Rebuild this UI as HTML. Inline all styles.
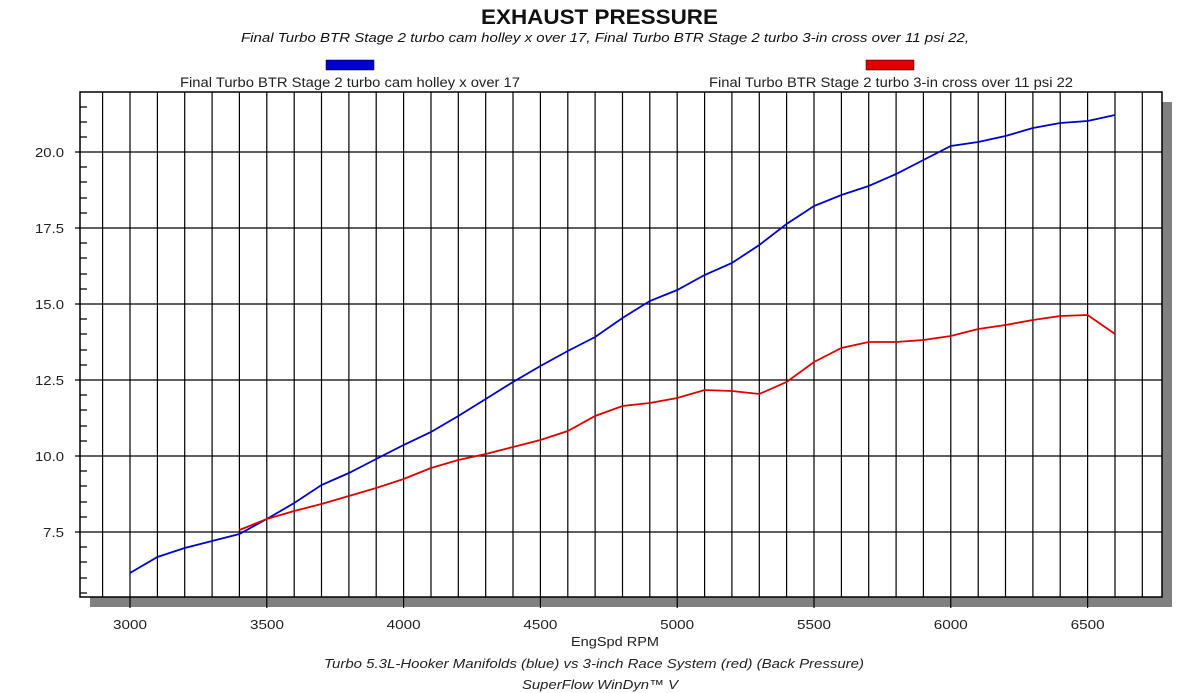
<!DOCTYPE html>
<html><head><meta charset="utf-8"><style>
html,body{margin:0;padding:0;background:#fff;}
svg{display:block;font-family:"Liberation Sans",Arial,sans-serif;}
</style></head><body>
<svg width="1200" height="693" viewBox="0 0 1200 693" xmlns="http://www.w3.org/2000/svg">
<rect width="1200" height="693" fill="#fff"/>
<text x="481" y="24" font-size="21" font-weight="bold" fill="#111" textLength="237" lengthAdjust="spacingAndGlyphs">EXHAUST PRESSURE</text>
<text x="241" y="42" font-size="13" font-style="italic" fill="#111" textLength="728" lengthAdjust="spacingAndGlyphs">Final Turbo BTR Stage 2 turbo cam holley x over 17, Final Turbo BTR Stage 2 turbo 3-in cross over 11 psi 22,</text>
<rect x="326" y="60" width="48" height="10" fill="#0000cc" stroke="#000" stroke-width="0.5"/>
<rect x="866" y="60" width="48" height="10" fill="#dd0000" stroke="#000" stroke-width="0.5"/>
<text x="180" y="87" font-size="13.5" fill="#222" textLength="340" lengthAdjust="spacingAndGlyphs">Final Turbo BTR Stage 2 turbo cam holley x over 17</text>
<text x="709" y="87" font-size="13.5" fill="#222" textLength="364" lengthAdjust="spacingAndGlyphs">Final Turbo BTR Stage 2 turbo 3-in cross over 11 psi 22</text>
<rect x="1162" y="102" width="10" height="505" fill="#808080"/>
<rect x="90" y="597" width="1082" height="10" fill="#808080"/>
<rect x="80" y="92" width="1082" height="505" fill="#fff" stroke="#000" stroke-width="1.5"/>
<g stroke="#000" stroke-width="1.2">
<path d="M102.6 92V597M130 92V597M157.4 92V597M184.7 92V597M212.1 92V597M239.4 92V597M266.8 92V597M294.2 92V597M321.5 92V597M348.9 92V597M376.2 92V597M403.6 92V597M431 92V597M458.3 92V597M485.7 92V597M513 92V597M540.4 92V597M567.8 92V597M595.1 92V597M622.5 92V597M649.8 92V597M677.2 92V597M704.6 92V597M731.9 92V597M759.3 92V597M786.6 92V597M814 92V597M841.4 92V597M868.7 92V597M896.1 92V597M923.4 92V597M950.8 92V597M978.2 92V597M1005.5 92V597M1032.9 92V597M1060.2 92V597M1087.6 92V597M1115 92V597M1142.3 92V597"/>
<path d="M75 152H1162M75 228H1162M75 304H1162M75 380H1162M75 456H1162M75 532H1162"/>
<path d="M80 107H87M80 122H87M80 137H87M80 167H87M80 182H87M80 198H87M80 213H87M80 243H87M80 258H87M80 274H87M80 289H87M80 319H87M80 334H87M80 350H87M80 365H87M80 395H87M80 410H87M80 426H87M80 441H87M80 471H87M80 486H87M80 502H87M80 517H87M80 547H87M80 562H87M80 578H87M80 593H87"/>
<path d="M130 597V608M266.8 597V608M403.6 597V608M540.4 597V608M677.2 597V608M814 597V608M950.8 597V608M1087.6 597V608"/>
</g>
<g font-size="13" fill="#222">
<text x="35" y="157" textLength="29" lengthAdjust="spacingAndGlyphs">20.0</text><text x="35" y="233" textLength="29" lengthAdjust="spacingAndGlyphs">17.5</text><text x="35" y="309" textLength="29" lengthAdjust="spacingAndGlyphs">15.0</text><text x="35" y="385" textLength="29" lengthAdjust="spacingAndGlyphs">12.5</text><text x="35" y="461" textLength="29" lengthAdjust="spacingAndGlyphs">10.0</text><text x="43" y="537" textLength="21" lengthAdjust="spacingAndGlyphs">7.5</text>
</g>
<g font-size="13" fill="#222">
<text x="113" y="629" textLength="34" lengthAdjust="spacingAndGlyphs">3000</text><text x="250" y="629" textLength="34" lengthAdjust="spacingAndGlyphs">3500</text><text x="386.6" y="629" textLength="34" lengthAdjust="spacingAndGlyphs">4000</text><text x="523.4" y="629" textLength="34" lengthAdjust="spacingAndGlyphs">4500</text><text x="660.2" y="629" textLength="34" lengthAdjust="spacingAndGlyphs">5000</text><text x="797" y="629" textLength="34" lengthAdjust="spacingAndGlyphs">5500</text><text x="933.8" y="629" textLength="34" lengthAdjust="spacingAndGlyphs">6000</text><text x="1070.6" y="629" textLength="34" lengthAdjust="spacingAndGlyphs">6500</text>
<text x="571" y="646" textLength="88" lengthAdjust="spacingAndGlyphs">EngSpd RPM</text>
<text x="324" y="668" font-style="italic" textLength="540" lengthAdjust="spacingAndGlyphs">Turbo 5.3L-Hooker Manifolds (blue) vs 3-inch Race System (red) (Back Pressure)</text>
<text x="522" y="689" font-style="italic" textLength="156" lengthAdjust="spacingAndGlyphs">SuperFlow WinDyn™ V</text>
</g>
<polyline fill="none" stroke="#0000cc" stroke-width="1.8" points="130,573 157.4,557 184.7,548 212.1,541 239.4,534 266.8,519 294.2,503 321.5,485 348.9,473 376.2,459 403.6,445 431,432 458.3,416 485.7,399 513,382 540.4,366 567.8,351 595.1,337 622.5,318 649.8,301 677.2,290 704.6,275 731.9,263 759.3,245 786.6,224 814,206 841.4,195 868.7,186 896.1,174 923.4,160 950.8,146 978.2,142 1005.5,136 1032.9,128 1060.2,123 1087.6,121 1115,115"/>
<polyline fill="none" stroke="#dd0000" stroke-width="1.8" points="239.4,530 266.8,519 294.2,511 321.5,504 348.9,496 376.2,488 403.6,479 431,468 458.3,460 485.7,454 513,447 540.4,440 567.8,431 595.1,416 622.5,406 649.8,403 677.2,398 704.6,390 731.9,391 759.3,394 786.6,382 814,362 841.4,348 868.7,342 896.1,342 923.4,340 950.8,336 978.2,329 1005.5,325 1032.9,320 1060.2,316 1087.6,315 1115,334"/>
</svg>
</body></html>
